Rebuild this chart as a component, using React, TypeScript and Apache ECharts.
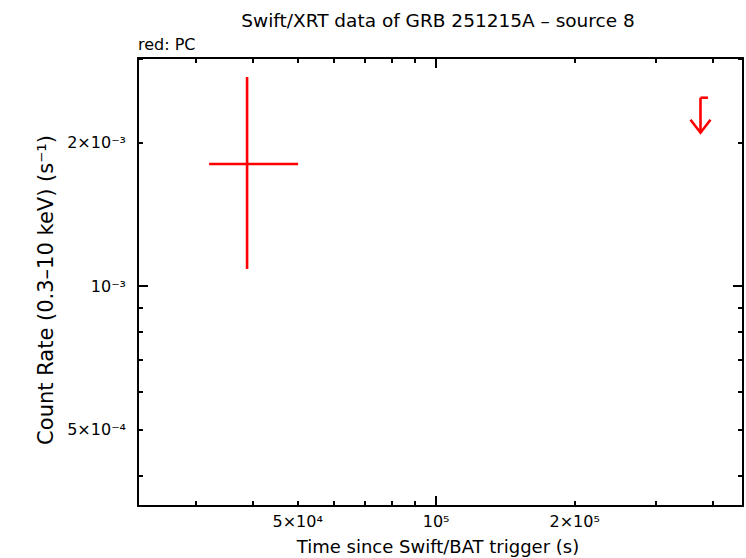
import React, { useEffect, useRef } from 'react';
import * as echarts from 'echarts';

const TITLE = 'Swift/XRT data of GRB 251215A – source 8';
const SUBTITLE = 'red: PC';
const X_NAME = 'Time since Swift/BAT trigger (s)';
const Y_NAME = 'Count Rate (0.3–10 keV) (s⁻¹)';

const xRange = [22490, 464500];
const yRange = [3.456e-4, 3.008e-3];

const xMinorTicks = [3e4, 4e4, 5e4, 6e4, 7e4, 8e4, 9e4, 2e5, 3e5, 4e5];
const xMajorTicks = [1e5];
const xLabelValues = [5e4, 1e5, 2e5];
const xLabelTexts = ['5×10⁴', '10⁵', '2×10⁵'];

const yMinorTicks = [4e-4, 5e-4, 6e-4, 7e-4, 8e-4, 9e-4, 2e-3, 3e-3];
const yMajorTicks = [1e-3];
const yLabelValues = [5e-4, 1e-3, 2e-3];
const yLabelTexts = ['5×10⁻⁴', '10⁻³', '2×10⁻³'];

// PC detection
const pcTime = [38820];
const pcTimeLow = [32100];
const pcTimeHigh = [50120];
const pcRate = [1.803e-3];
const pcRateLow = [1.086e-3];
const pcRateHigh = [2.744e-3];

// PC upper limit
const ulTime = [375500];
const ulTimeHigh = [389700];
const ulRate = [2.483e-3];

const FONT = 'DejaVu Sans';
const RED = '#ff0000';
const L = Math.log10;

function labelFor(values: number[], texts: string[]) {
  return (v: number) => {
    for (let i = 0; i < values.length; i++) {
      if (Math.abs(L(values[i]) - v) < 1e-6) return texts[i];
    }
    return '';
  };
}

function makeAxis(kind: 'x' | 'y', position: string, ticks: number[], len: number, labels: boolean, line: boolean) {
  const range = kind === 'x' ? xRange : yRange;
  const lv = kind === 'x' ? xLabelValues : yLabelValues;
  const lt = kind === 'x' ? xLabelTexts : yLabelTexts;
  return {
    type: 'value',
    position,
    min: L(range[0]),
    max: L(range[1]),
    splitLine: { show: false },
    axisLine: { show: line, onZero: false, lineStyle: { color: '#000', width: 2 } },
    axisTick: {
      show: true,
      inside: true,
      length: len,
      customValues: ticks.map(L),
      lineStyle: { color: '#000', width: 2 },
    },
    axisLabel: labels
      ? {
          show: true,
          customValues: lv.map(L),
          formatter: labelFor(lv, lt),
          color: '#000',
          fontFamily: FONT,
          fontSize: 16,
          margin: kind === 'x' ? 7 : 12,
        }
      : { show: false },
  };
}

export default function App() {
  const ref = useRef<HTMLDivElement>(null);
  useEffect(() => {
    if (!ref.current) return;
    const chart = echarts.init(ref.current, undefined, { renderer: 'svg' });
    const pcData = pcTime.map((t, i) => [
      L(t), L(pcRate[i]), L(pcTimeLow[i]), L(pcTimeHigh[i]), L(pcRateLow[i]), L(pcRateHigh[i]),
    ]);
    const ulData = ulTime.map((t, i) => [L(t), L(ulRate[i]), L(ulTimeHigh[i])]);
    const stroke = { stroke: RED, lineWidth: 2.6, fill: 'none' };
    chart.setOption({
      animation: false,
      backgroundColor: '#fff',
      grid: { left: 138, right: 3, top: 58, bottom: 52, containLabel: false },
      xAxis: [
        makeAxis('x', 'bottom', xMinorTicks, 5, true, true),
        makeAxis('x', 'bottom', xMajorTicks, 10, false, false),
        makeAxis('x', 'top', xMinorTicks, 5, false, true),
        makeAxis('x', 'top', xMajorTicks, 10, false, false),
      ],
      yAxis: [
        makeAxis('y', 'left', yMinorTicks, 5, true, true),
        makeAxis('y', 'left', yMajorTicks, 10, false, false),
        makeAxis('y', 'right', yMinorTicks, 5, false, true),
        makeAxis('y', 'right', yMajorTicks, 10, false, false),
      ],
      graphic: [
        {
          type: 'text', x: 438, y: 20,
          style: { text: TITLE, fill: '#000', fontFamily: FONT, fontSize: 18.5, textAlign: 'center', textVerticalAlign: 'middle' },
        },
        {
          type: 'text', x: 138, y: 44,
          style: { text: SUBTITLE, fill: '#000', fontFamily: FONT, fontSize: 16, textAlign: 'left', textVerticalAlign: 'middle' },
        },
        {
          type: 'text', x: 438, y: 546,
          style: { text: X_NAME, fill: '#000', fontFamily: FONT, fontSize: 18, textAlign: 'center', textVerticalAlign: 'middle' },
        },
        {
          type: 'text', x: 46, y: 290, rotation: Math.PI / 2,
          style: { text: Y_NAME, fill: '#000', fontFamily: FONT, fontSize: 21, textAlign: 'center', textVerticalAlign: 'middle' },
        },
      ],
      series: [
        {
          type: 'custom',
          xAxisIndex: 0,
          yAxisIndex: 0,
          data: pcData,
          clip: false,
          renderItem: (params: any, api: any) => {
            const c = api.coord([api.value(0), api.value(1)]);
            const xl = api.coord([api.value(2), api.value(1)]);
            const xh = api.coord([api.value(3), api.value(1)]);
            const yl = api.coord([api.value(0), api.value(4)]);
            const yh = api.coord([api.value(0), api.value(5)]);
            return {
              type: 'group',
              children: [
                { type: 'line', shape: { x1: xl[0], y1: c[1], x2: xh[0], y2: c[1] }, style: stroke },
                { type: 'line', shape: { x1: c[0], y1: yl[1], x2: c[0], y2: yh[1] }, style: stroke },
              ],
            };
          },
        },
        {
          type: 'custom',
          xAxisIndex: 0,
          yAxisIndex: 0,
          data: ulData,
          clip: false,
          renderItem: (params: any, api: any) => {
            const c = api.coord([api.value(0), api.value(1)]);
            const xh = api.coord([api.value(2), api.value(1)]);
            const tipY = c[1] + 35;
            return {
              type: 'group',
              children: [
                { type: 'line', shape: { x1: c[0], y1: c[1], x2: xh[0], y2: c[1] }, style: stroke },
                { type: 'line', shape: { x1: c[0], y1: c[1], x2: c[0], y2: tipY }, style: stroke },
                { type: 'polyline', shape: { points: [[c[0] - 10, tipY - 13], [c[0], tipY], [c[0] + 10, tipY - 13]] }, style: stroke },
              ],
            };
          },
        },
      ],
    });
    return () => chart.dispose();
  }, []);
  return (
    <div
      ref={ref}
      style={{ position: 'fixed', left: 0, top: 0, width: 746, height: 558, background: '#fff' }}
    />
  );
}
